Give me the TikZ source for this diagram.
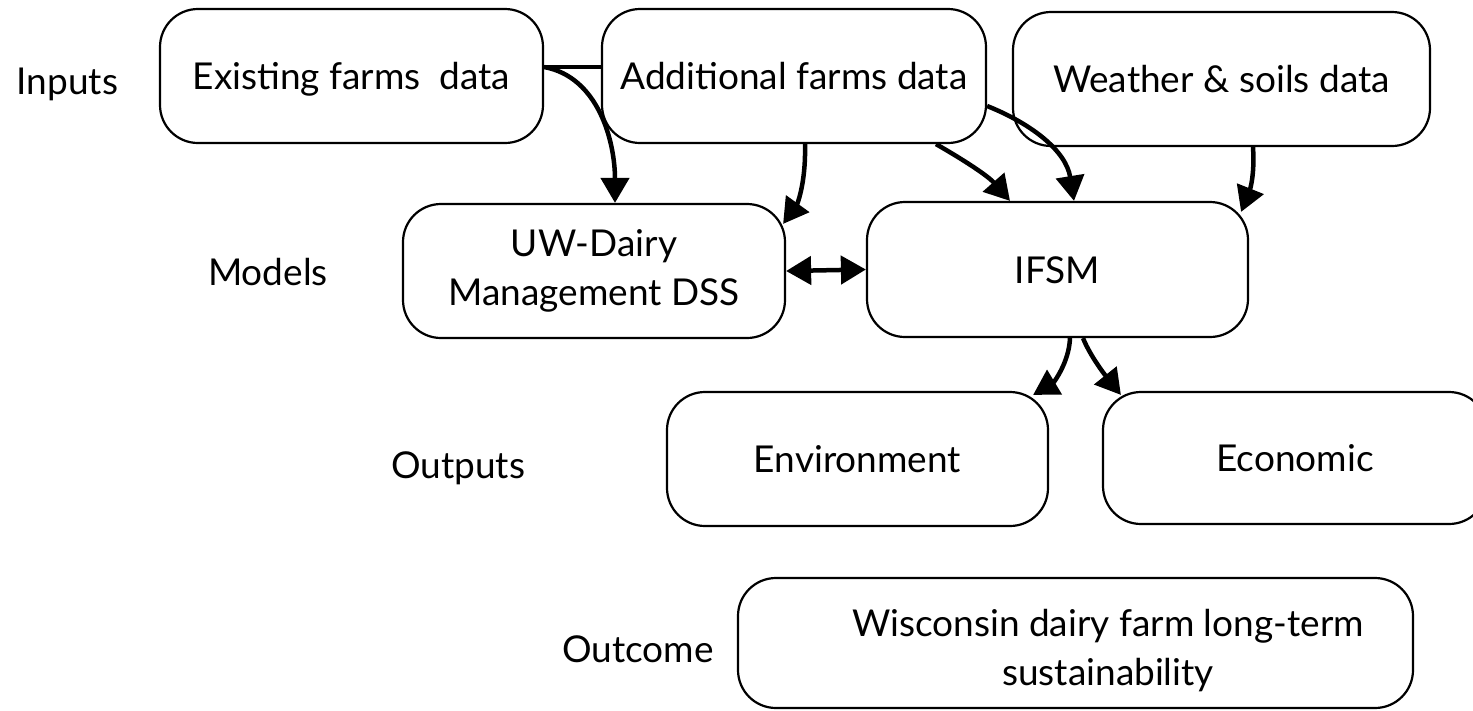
\documentclass[tikz,border=0pt]{standalone}
\usepackage{fontspec}
\setmainfont{Lato}
\usetikzlibrary{arrows.meta,backgrounds}
\begin{document}
\begin{tikzpicture}[x=1pt,y=-1pt,
  box/.style={draw, line width=2.2pt, rounded corners=38pt, fill=white, inner sep=0pt},
  lbl/.style={font=\fontsize{37pt}{49pt}\selectfont},
  one/.style={text height=27pt, text depth=0pt},
  arr/.style={line width=4.5pt, -{Triangle[length=25pt,width=28pt]}},
  darr/.style={line width=4.5pt, {Triangle[length=25pt,width=28pt]}-{Triangle[length=25pt,width=28pt]}},
  plain/.style={line width=4.5pt}]
\useasboundingbox (0,0) rectangle (1473,710);
% labels
\node[lbl, anchor=base] (linputs) at (67.5,94) {Inputs};
\node[lbl, anchor=base] (lmodels) at (268,285) {Models};
\node[lbl, anchor=base] (loutputs) at (458,478) {Outputs};
\node[lbl, anchor=base] (loutcome) at (638,662) {Outcome};
% boxes
\node[box, lbl, one, minimum width=383pt, minimum height=134pt] (ex) at (351.5,76) {Existing farms\ \ data};
\node[box, lbl, one, minimum width=384pt, minimum height=134pt] (ad) at (794,76) {Additional farms data};
\node[box, lbl, one, minimum width=417pt, minimum height=134pt] (we) at (1221.5,79) {Weather \& soils data};
\node[box, lbl, align=center, minimum width=382pt, minimum height=134pt] (uw) at (594,271) {UW-Dairy\\Management DSS};
\node[box, lbl, one, minimum width=381pt, minimum height=135pt] (ifsm) at (1057.5,269.5) {IFSM};
\node[box, lbl, one, minimum width=381pt, minimum height=134pt] (en) at (857.5,459) {Environment};
\node[box, lbl, one, minimum width=384pt, minimum height=132pt] (ec) at (1295,458) {Economic};
\node[box, minimum width=675pt, minimum height=130pt] (wi) at (1075.5,643) {};
\node[lbl, align=center, inner sep=0pt] (wit) at (1108,651) {Wisconsin dairy farm long-term\\sustainability};
% connectors behind the Additional box
\begin{scope}[on background layer]
\draw[plain] ([yshift=9pt]ex.east) -- ([yshift=9pt]ad.west);
\draw[arr] ([yshift=9pt]ex.east) .. controls +(55,10) and +(0,-60) .. ([xshift=21pt]uw.north);
\end{scope}
\draw[arr] ([xshift=11pt]ad.south) .. controls +(1,42) and +(13,-18) .. ([xshift=-3pt,yshift=-21pt]uw.north east);
\draw[arr] ([xshift=142pt]ad.south) .. controls +(28,16) and +(-22,-25) .. ([xshift=-47.5pt]ifsm.north);
\draw[arr] ([yshift=-30pt]ad.east) .. controls +(45,18) and +(-8,-50) .. ([xshift=16.5pt]ifsm.north);
\draw[arr] ([xshift=31.5pt]we.south) .. controls +(2,30) and +(8,-20) .. ([xshift=-8pt,yshift=-11pt]ifsm.north east);
\draw[darr] (uw.east) -- (ifsm.west);
\draw[arr] ([xshift=12.5pt]ifsm.south) .. controls +(-1,25) and +(20,-12) .. ([xshift=-16pt,yshift=-4pt]en.north east);
\draw[arr] ([xshift=25.5pt]ifsm.south) .. controls +(8,20) and +(-12,-15) .. ([xshift=19pt,yshift=-4pt]ec.north west);
\end{tikzpicture}
\end{document}
